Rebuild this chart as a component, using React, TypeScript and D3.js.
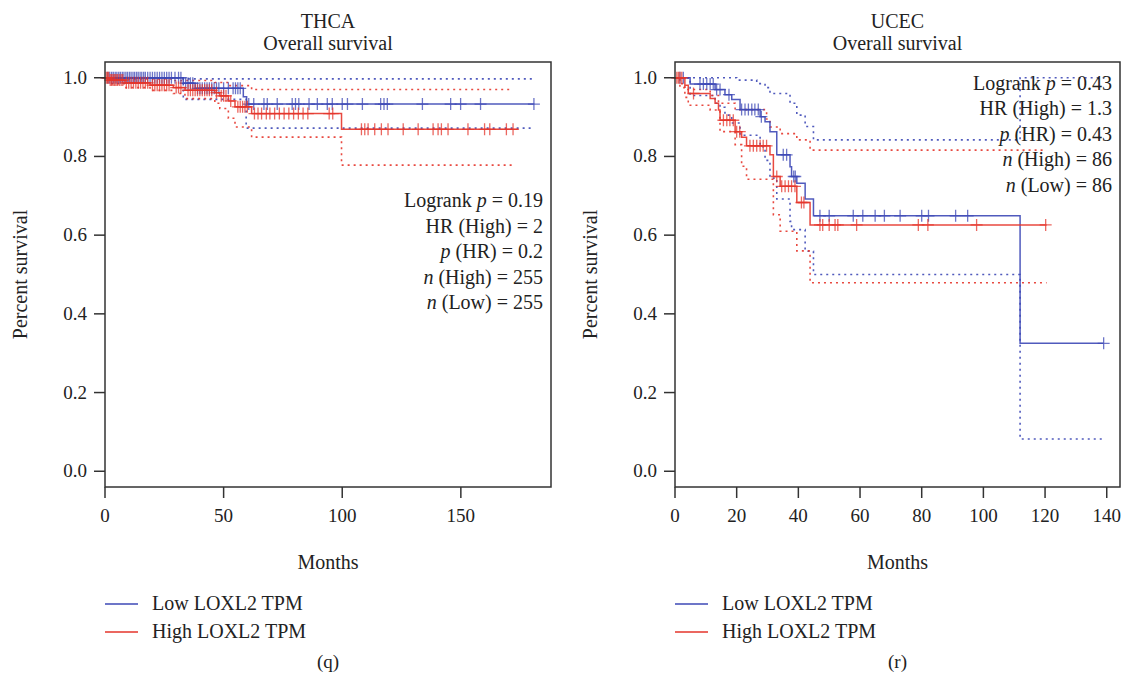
import React from "react";
import * as d3 from "d3";

// colours
const BLUE = "#3d48b6";
const RED = "#e5352b";

const yTicks = [0, 0.2, 0.4, 0.6, 0.8, 1.0];
const thcaXTicks = [0, 50, 100, 150];
const ucecXTicks = [0, 20, 40, 60, 80, 100, 120, 140];

// THCA  [months, survival] steps (last point = end of follow-up)
const thcaLow = [[0, 1], [33, 0.986], [38, 0.973], [58.3, 0.952], [59.7, 0.933], [181, 0.933]];
const thcaLowUpper = [[0, 1], [33, 0.997], [181, 0.996]];
const thcaLowLower = [[0, 1], [33, 0.945], [59.5, 0.872], [181, 0.872]];
const thcaLowCensor = [1.2, 2, 2.8, 3.5, 4.3, 5, 5.8, 6.5, 7.3, 8, 8.8, 9.5, 10.3, 11, 11.8, 12.5, 13.3, 14, 14.8, 15.5, 16.3, 17, 18, 19, 20, 21, 22, 23, 24, 25, 26, 27, 28, 29.5, 31, 32,
  34, 35, 36, 37, 39, 40, 41, 42, 43, 44, 45, 46, 47, 48, 50, 52, 54, 55, 56, 57,
  60.6, 62.7, 67, 68.4, 72.6, 78.9, 80.3, 81.7, 86, 89.5, 93.7, 95.8, 100, 102.2, 108.5, 116.2, 117.6, 119, 133.8, 145.7, 149.9, 158.3, 180.8];

const thcaHigh = [[0, 1], [2, 0.994], [8.4, 0.987], [19, 0.981], [28.8, 0.975], [33.7, 0.968], [46.3, 0.962], [48.4, 0.954], [52, 0.941], [54.8, 0.926], [61.8, 0.909], [99.7, 0.869], [174, 0.869]];
const thcaHighUpper = [[0, 1], [8.4, 0.997], [28.8, 0.993], [46.3, 0.988], [52, 0.98], [61.8, 0.970], [172, 0.970]];
const thcaHighLower = [[0, 1], [2, 0.985], [8.4, 0.975], [19, 0.968], [28.8, 0.96], [33.7, 0.947], [46.3, 0.935], [48.4, 0.922], [52, 0.897], [54.8, 0.875], [61.8, 0.849], [99.7, 0.778], [172, 0.778]];
const thcaHighCensor = [0.5, 1, 1.5, 2.2, 2.8, 3.4, 4, 4.6, 5.2, 6, 6.8, 7.5, 9, 10, 11, 12, 13, 14, 15, 16, 17, 18, 20, 21, 22, 23, 24, 25, 26, 27, 30, 31, 32,
  35, 36, 37, 38, 39, 40, 41, 42, 43, 44, 45, 47, 49, 50, 51, 53, 56, 57, 58, 59, 60,
  63, 64.5, 66, 68, 69.5, 71.5, 73.5, 75.5, 77.5, 79.5, 81.5, 83.5, 85.5, 94.5, 96,
  108.1, 109.5, 110.9, 113.7, 116.5, 119.3, 125.7, 132, 138.3, 140.4, 141.8, 144.6, 153, 160, 162.2, 169.2, 172];

// UCEC
const ucecLow = [[0, 1], [4.9, 0.984], [13, 0.97], [16.2, 0.957], [18.4, 0.945], [21.1, 0.919], [27.6, 0.901], [29.2, 0.888], [30.8, 0.863], [33, 0.804], [37.3, 0.774], [37.8, 0.749], [39.5, 0.732], [42.2, 0.692], [44.9, 0.649], [111.9, 0.325], [139, 0.325]];
const ucecLowUpper = [[0, 1], [20, 0.994], [26.5, 0.985], [29.2, 0.975], [30.8, 0.96], [37.3, 0.935], [39.5, 0.905], [42.2, 0.876], [44.9, 0.842], [111.9, 1], [139, 1]];
const ucecLowLower = [[0, 1], [4.9, 0.955], [13, 0.935], [14.6, 0.925], [16.2, 0.905], [18.4, 0.885], [21.1, 0.854], [27.6, 0.825], [29.2, 0.79], [30.8, 0.745], [33, 0.692], [37.3, 0.635], [37.8, 0.614], [42.2, 0.559], [44.9, 0.5], [111.9, 0.082], [138.4, 0.082]];
const ucecLowCensor = [1.6, 2.7, 8.1, 9.2, 10.3, 11.4, 12.4, 13.5, 14.6, 17.5, 21.6, 22.7, 23.8, 24.9, 25.9, 27, 28, 35.1, 36.2, 38.5, 39, 47, 50, 57.8, 60.9, 64.9, 67.9, 73, 80, 82.2, 91, 94.9, 139];

const ucecHigh = [[0, 1], [3.2, 0.981], [4.3, 0.96], [11.4, 0.947], [13, 0.935], [14.1, 0.918], [14.6, 0.892], [19.5, 0.863], [21.6, 0.849], [23.2, 0.827], [30.8, 0.804], [31.9, 0.749], [34.1, 0.724], [39.5, 0.683], [43.8, 0.626], [120.5, 0.626]];
const ucecHighUpper = [[0, 1], [2.2, 0.985], [3.2, 0.97], [11.4, 0.955], [14.1, 0.935], [19.5, 0.919], [29.7, 0.895], [30.8, 0.875], [34.1, 0.858], [39.5, 0.842], [43.8, 0.816], [120.5, 0.816]];
const ucecHighLower = [[0, 1], [1.6, 0.975], [3.2, 0.95], [4.3, 0.93], [11.4, 0.918], [14.6, 0.863], [19.5, 0.83], [21.6, 0.775], [23.2, 0.742], [31.9, 0.652], [34.1, 0.61], [39.5, 0.56], [43.8, 0.479], [120.5, 0.479]];
const ucecHighCensor = [0.6, 1.1, 1.6, 2.2, 6, 15.7, 16.8, 17.8, 18.9, 20, 21, 24.3, 25.4, 26.5, 27.6, 28.6, 29.7, 33, 34.6, 35.7, 36.8, 37.8, 38.9, 41, 41.8, 47, 47.9, 50, 51.9, 52.8, 58.9, 78.9, 82, 97.8, 120.2];

// stats text: [plain, italic, plain]
const thcaStats = [["Logrank ", "p", " = 0.19"], ["HR (High) = 2", "", ""], ["", "p", " (HR) = 0.2"], ["", "n", " (High) = 255"], ["", "n", " (Low) = 255"]];
const ucecStats = [["Logrank ", "p", " = 0.43"], ["HR (High) = 1.3", "", ""], ["", "p", " (HR) = 0.43"], ["", "n", " (High) = 86"], ["", "n", " (Low) = 86"]];

const legendLabels = ["Low LOXL2 TPM", "High LOXL2 TPM"];

const FONT = "'Liberation Serif', 'DejaVu Serif', serif";

function survAt(steps, t) {
  let s = steps[0][1];
  for (const [tt, v] of steps) if (tt <= t) s = v;
  return s;
}

function KMPanel({ left, right, xMax, xTicks, title, low, lowUp, lowLo, lowCens, high, highUp, highLo, highCens, stats, statsY, label }) {
  const top = 62, bottom = 487;
  const x = d3.scaleLinear().domain([0, xMax]).range([left, right]);
  const y = d3.scaleLinear().domain([-0.04, 1.04]).range([bottom, top]);
  const line = d3.line().x(d => x(d[0])).y(d => y(d[1])).curve(d3.curveStepAfter);
  const cx = (left + right) / 2;

  const curve = (steps, color, dotted) => (
    <path d={line(steps)} fill="none" stroke={color} strokeWidth={dotted ? 1.6 : 1.5}
      strokeDasharray={dotted ? "2,4" : null} opacity={0.9} />
  );
  const censor = (times, steps, color) => times.map((t, i) => {
    const px = x(t), py = y(survAt(steps, t));
    return <path key={i} d={`M${px},${py - 6}V${py + 6}M${px - 6},${py}H${px + 6}`} stroke={color} strokeWidth={1.3} opacity={0.75} />;
  });

  return (
    <g fontFamily={FONT} fill="#222">
      <text x={cx} y={28} textAnchor="middle" fontSize={20}>{title}</text>
      <text x={cx} y={50} textAnchor="middle" fontSize={20}>Overall survival</text>

      {curve(lowUp, BLUE, true)}
      {curve(lowLo, BLUE, true)}
      {curve(highUp, RED, true)}
      {curve(highLo, RED, true)}
      {curve(low, BLUE, false)}
      {censor(lowCens, low, BLUE)}
      {curve(high, RED, false)}
      {censor(highCens, high, RED)}

      <rect x={left} y={top} width={right - left} height={bottom - top} fill="none" stroke="#333" strokeWidth={1.5} />

      {yTicks.map(v => (
        <g key={v}>
          <line x1={left - 11} x2={left} y1={y(v)} y2={y(v)} stroke="#333" strokeWidth={1.5} />
          <text x={left - 18} y={y(v) + 6} textAnchor="end" fontSize={19}>{d3.format(".1f")(v)}</text>
        </g>
      ))}
      {xTicks.map(v => (
        <g key={v}>
          <line x1={x(v)} x2={x(v)} y1={bottom} y2={bottom + 11} stroke="#333" strokeWidth={1.5} />
          <text x={x(v)} y={522} textAnchor="middle" fontSize={19}>{v}</text>
        </g>
      ))}
      <text x={cx} y={569} textAnchor="middle" fontSize={20}>Months</text>
      <text transform={`translate(${left - 78},${(top + bottom) / 2}) rotate(-90)`} textAnchor="middle" fontSize={20}>Percent survival</text>

      {stats.map((parts, i) => (
        <text key={i} x={right - 8} y={statsY + i * 25.5} textAnchor="end" fontSize={20}>
          {parts[0]}<tspan fontStyle="italic">{parts[1]}</tspan>{parts[2]}
        </text>
      ))}

      {legendLabels.map((lab, i) => (
        <g key={lab}>
          <line x1={left} x2={left + 33} y1={604 + i * 28} y2={604 + i * 28} stroke={i === 0 ? BLUE : RED} strokeWidth={1.5} />
          <text x={left + 47} y={610 + i * 28} fontSize={20}>{lab}</text>
        </g>
      ))}
      <text x={cx} y={668} textAnchor="middle" fontSize={19}>{label}</text>
    </g>
  );
}

export default function App() {
  return (
    <svg width={1123} height={682} style={{ position: "absolute", left: 0, top: 0, background: "#fff" }}>
      <rect width={1123} height={682} fill="#fff" />
      <KMPanel left={105} right={551} xMax={188} xTicks={thcaXTicks} title="THCA"
        low={thcaLow} lowUp={thcaLowUpper} lowLo={thcaLowLower} lowCens={thcaLowCensor}
        high={thcaHigh} highUp={thcaHighUpper} highLo={thcaHighLower} highCens={thcaHighCensor}
        stats={thcaStats} statsY={207} label="(q)" />
      <KMPanel left={675} right={1120} xMax={144.3} xTicks={ucecXTicks} title="UCEC"
        low={ucecLow} lowUp={ucecLowUpper} lowLo={ucecLowLower} lowCens={ucecLowCensor}
        high={ucecHigh} highUp={ucecHighUpper} highLo={ucecHighLower} highCens={ucecHighCensor}
        stats={ucecStats} statsY={89.5} label="(r)" />
    </svg>
  );
}
